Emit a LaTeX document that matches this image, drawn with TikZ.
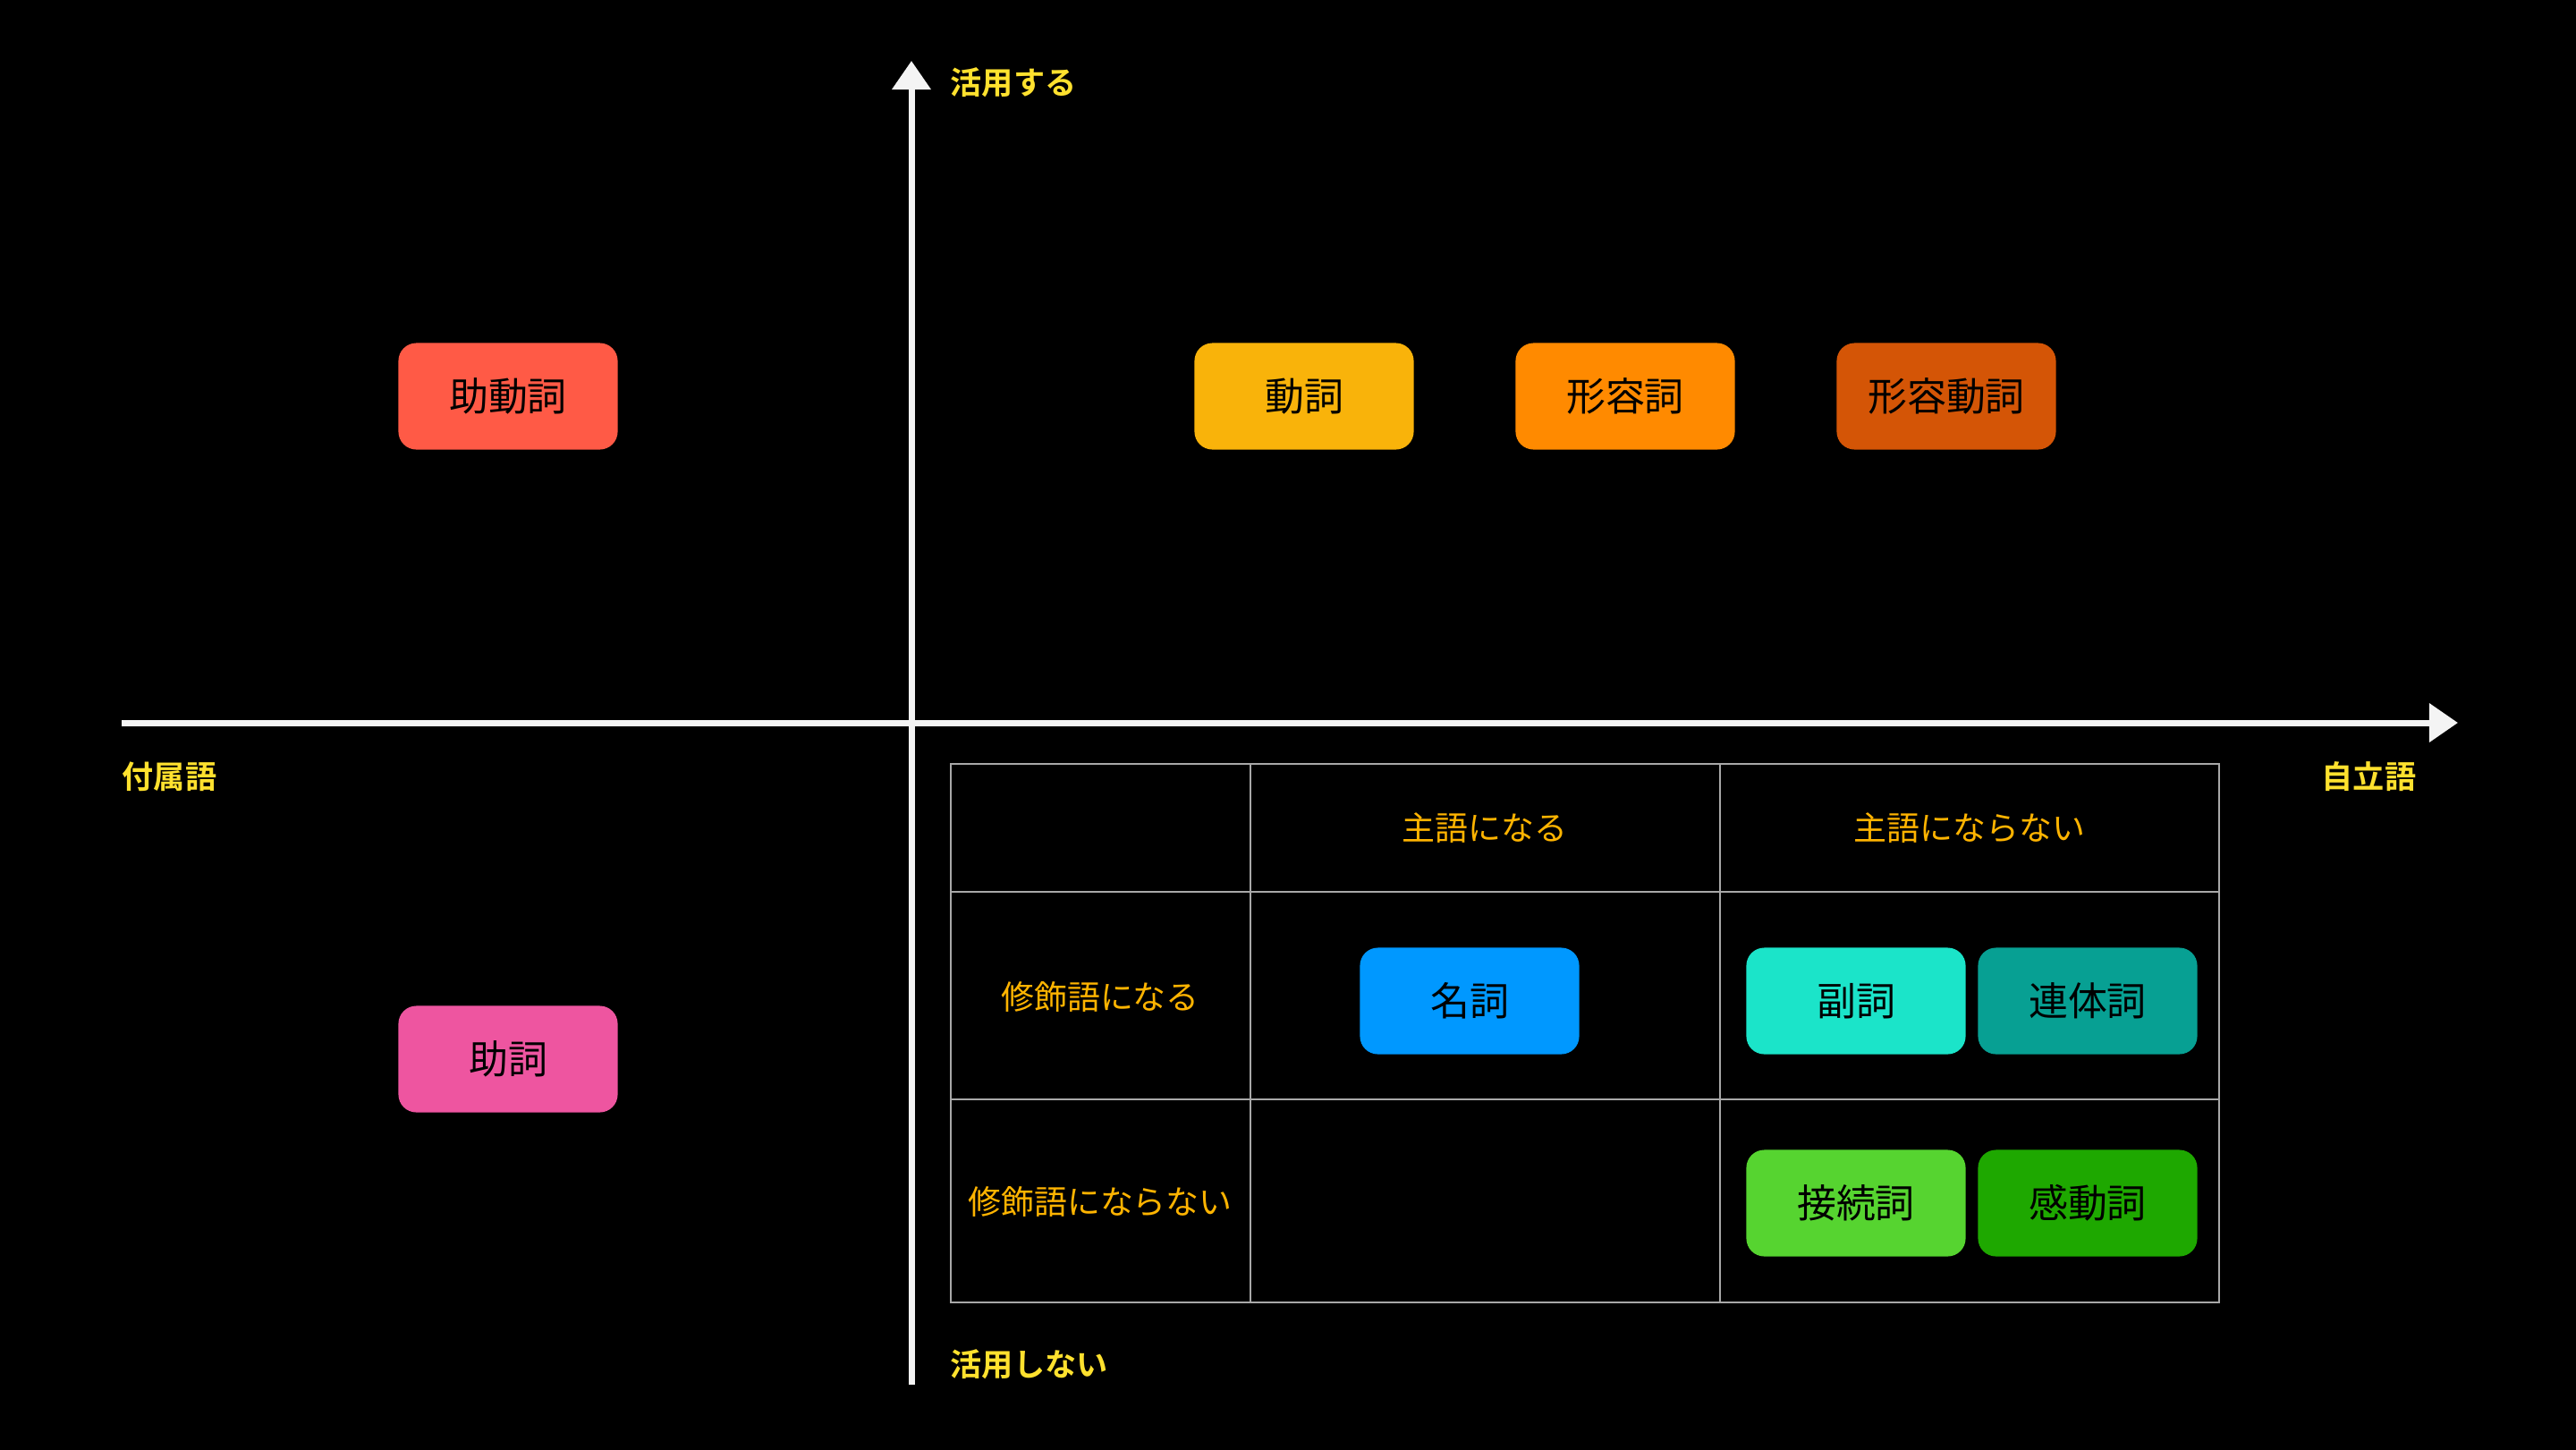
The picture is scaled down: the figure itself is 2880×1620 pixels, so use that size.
\documentclass[tikz,border=0pt]{standalone}
\usepackage{fontspec}
\setmainfont{Noto Sans CJK JP}[BoldFont={* Bold}]
\usetikzlibrary{arrows.meta}
\definecolor{chalk}{HTML}{F4F4F4}
\definecolor{axisyellow}{HTML}{FFE12E}
\definecolor{headorange}{HTML}{FFB400}
\definecolor{gridgray}{HTML}{A8A8A8}
\definecolor{jodoushi}{HTML}{FF5A46}
\definecolor{doushi}{HTML}{F9B30A}
\definecolor{keiyoushi}{HTML}{FF8A00}
\definecolor{keiyoudoushi}{HTML}{D45506}
\definecolor{joshi}{HTML}{EE55A0}
\definecolor{meishi}{HTML}{0098FF}
\definecolor{fukushi}{HTML}{1BE4C9}
\definecolor{rentaishi}{HTML}{07A093}
\definecolor{setsuzokushi}{HTML}{56D430}
\definecolor{kandoushi}{HTML}{1EA800}
\tikzset{
  hinshi/.style={rectangle, rounded corners=0.2cm, minimum width=2.45cm, minimum height=1.19cm, inner sep=0pt, font=\fontsize{12.5}{14}\selectfont},
  axistext/.style={text=axisyellow, font=\bfseries\fontsize{10}{12}\selectfont, inner sep=0pt},
  cellhead/.style={text=headorange, font=\fontsize{10.5}{12}\selectfont, inner sep=0pt},
  axisline/.style={chalk, line width=0.07cm, -{Triangle[width=0.42cm,length=0.32cm]}}
}
\newcommand{\hinshibox}[4] {\node at (#1) (#2) [hinshi, fill=#4] {#3};}
\newcommand{\axislabel}[4] {\node at (#1) (#2) [axistext, anchor=#4] {#3};}
\newcommand{\cellheader}[3] {\node at (#1) (#2) [cellhead] {#3};}

\begin{document}
\begin{tikzpicture}[x=0.01cm, y=-0.01cm]

\useasboundingbox (0,0) rectangle (2880,1620);
\fill[black] (-20,-20) rectangle (2900,1640);

% axes
\coordinate (xneg) at (136,808);
\coordinate (xpos) at (2748,808);
\coordinate (yneg) at (1019,1548);
\coordinate (ypos) at (1019,68);
\draw [axisline] (xneg) -- (xpos);
\draw [axisline] (yneg) -- (ypos);

\axislabel{1062,92}{katsuyou}{活用する}{west}
\axislabel{1062,1525}{hikatsuyou}{活用しない}{west}
\axislabel{136,868}{fuzokugo}{付属語}{west}
\axislabel{2702,868}{jiritsugo}{自立語}{east}

% table
\draw [gridgray, line width=0.6pt] (1063,854) rectangle (2481,1456);
\draw [gridgray, line width=0.6pt] (1063,997) -- (2481,997);
\draw [gridgray, line width=0.6pt] (1063,1229) -- (2481,1229);
\draw [gridgray, line width=0.6pt] (1398,854) -- (1398,1456);
\draw [gridgray, line width=0.6pt] (1923,854) -- (1923,1456);

\cellheader{1660,926}{shugo}{主語になる}
\cellheader{2202,926}{hishugo}{主語にならない}
\cellheader{1230,1114}{shuushoku}{修飾語になる}
\cellheader{1230,1343}{hishuushoku}{修飾語にならない}

% parts of speech
\hinshibox{568,443}{jodoushibox}{助動詞}{jodoushi}
\hinshibox{1458,443}{doushibox}{動詞}{doushi}
\hinshibox{1817,443}{keiyoushibox}{形容詞}{keiyoushi}
\hinshibox{2176,443}{keiyoudoushibox}{形容動詞}{keiyoudoushi}
\hinshibox{568,1184}{joshibox}{助詞}{joshi}
\hinshibox{1643,1119}{meishibox}{名詞}{meishi}
\hinshibox{2075,1119}{fukushibox}{副詞}{fukushi}
\hinshibox{2334,1119}{rentaishibox}{連体詞}{rentaishi}
\hinshibox{2075,1345}{setsuzokushibox}{接続詞}{setsuzokushi}
\hinshibox{2334,1345}{kandoushibox}{感動詞}{kandoushi}

\end{tikzpicture}
\end{document}
